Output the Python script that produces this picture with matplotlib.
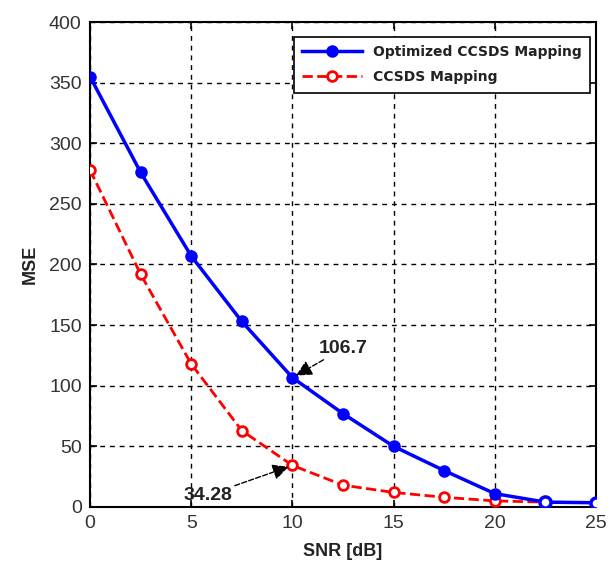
import numpy as np
import matplotlib
matplotlib.use("Agg")
import matplotlib.pyplot as plt

snr = [0, 2.5, 5, 7.5, 10, 12.5, 15, 17.5, 20, 22.5, 25]
mse_opt = [355, 276, 207, 153, 106.7, 77, 50, 30, 11, 4, 3.5]
mse_ccsds = [278, 192, 118, 63, 34.28, 18, 12, 8, 5, 4, 3.5]

plt.rcParams['font.family'] = ['Liberation Sans', 'DejaVu Sans']

fig = plt.figure(figsize=(6.11, 5.69), dpi=100)
ax = fig.add_axes([0.1473, 0.109, 0.8282, 0.8523])

ax.plot(snr, mse_ccsds, color="red", linestyle="--", linewidth=2,
        marker="o", markersize=7, markerfacecolor="white",
        markeredgecolor="red", markeredgewidth=2, label="CCSDS Mapping",
        markevery=list(range(9)), zorder=3)
ax.plot(snr, mse_opt, color="blue", linewidth=2.5, marker="o",
        markersize=8, markevery=list(range(9)),
        label="Optimized CCSDS Mapping", zorder=4)
# last two points drawn hollow on top of the blue line
ax.plot(snr, mse_opt, linestyle="none", marker="o", markersize=8,
        markerfacecolor="white", markeredgecolor="blue",
        markeredgewidth=2.5, markevery=[9, 10], zorder=5)

ax.set_xlim(0, 25)
ax.set_ylim(0, 400)
ax.set_xticks(np.arange(0, 26, 5))
ax.set_yticks(np.arange(0, 401, 50))
ax.grid(True, color="black", linestyle=(0, (3.5, 3.5)), linewidth=1)
ax.tick_params(direction="in", top=True, right=True, length=5,
               labelsize=14, labelcolor="#333333", width=1.2, pad=6)
for s in ax.spines.values():
    s.set_linewidth(1.5)

ax.set_xlabel("SNR [dB]", fontsize=13, fontweight="bold", color="#222222",
              labelpad=8)
ax.set_ylabel("MSE", fontsize=13, fontweight="bold", color="#222222",
              labelpad=7)

arrow = dict(arrowstyle="-|>", color="black", lw=1, linestyle="--",
             mutation_scale=24, shrinkA=0, shrinkB=3)
ax.annotate(f"{mse_opt[4]}", xy=(snr[4], mse_opt[4]), xytext=(11.3, 127),
            fontsize=14, fontweight="bold", color="#222222",
            arrowprops=arrow, zorder=6)
ax.annotate(f"{mse_ccsds[4]}", xy=(snr[4], mse_ccsds[4]), xytext=(4.6, 6),
            fontsize=14, fontweight="bold", color="#222222",
            arrowprops=arrow, zorder=6)

handles, labels = ax.get_legend_handles_labels()
leg = ax.legend(handles[::-1], labels[::-1], loc="upper right",
                bbox_to_anchor=(0.997, 0.978), fancybox=False,
                edgecolor="black", framealpha=1,
                prop={"family": "DejaVu Sans", "size": 10, "weight": "bold"},
                handlelength=4.3, borderpad=0.6, labelspacing=0.8,
                handletextpad=0.8, borderaxespad=0.3)
leg.get_frame().set_linewidth(1.2)
for t in leg.get_texts():
    t.set_color("#222222")

fig.savefig("out.png", dpi=100)
